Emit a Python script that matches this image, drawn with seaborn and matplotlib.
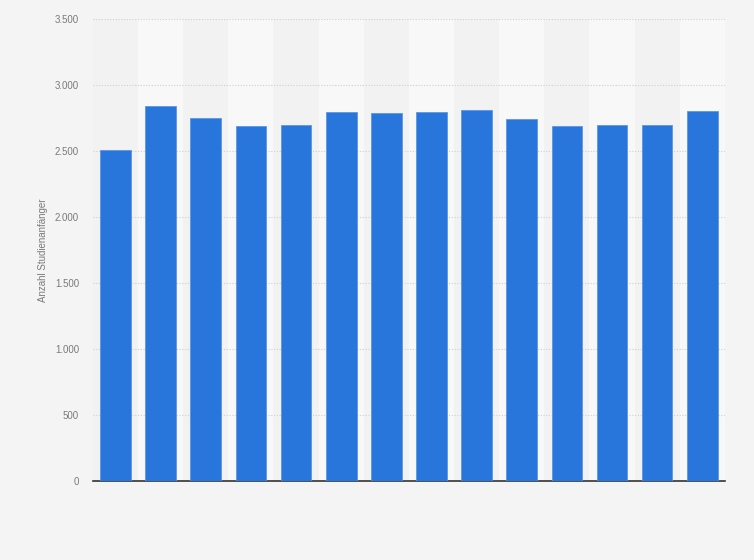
import matplotlib
matplotlib.use('Agg')
import pandas as pd
import seaborn as sns
import matplotlib.pyplot as plt
from matplotlib.ticker import FuncFormatter

# values (x labels are not shown in it)
categories = ['K01', 'K02', 'K03', 'K04', 'K05', 'K06', 'K07',
              'K08', 'K09', 'K10', 'K11', 'K12', 'K13', 'K14']
values = [2505, 2843, 2748, 2690, 2697, 2793, 2787,
          2793, 2808, 2741, 2690, 2697, 2697, 2803]
y_ticks = [0, 500, 1000, 1500, 2000, 2500, 3000, 3500]

df = pd.DataFrame({'kategorie': categories, 'anzahl': values})

sns.set_theme(style='white')
plt.rcParams['font.family'] = ['Liberation Sans', 'DejaVu Sans']

fig = plt.figure(figsize=(7.54, 5.6), dpi=100)
fig.patch.set_facecolor('#f4f4f4')
ax = fig.add_axes([0.1233, 0.141, 0.838, 0.825])
ax.set_facecolor('#f2f2f2')

# alternating column stripes
for i in range(len(categories)):
    if i % 2 == 1:
        ax.axvspan(i - 0.5, i + 0.5, color='#f8f8f8', zorder=0, lw=0)

sns.barplot(data=df, x='kategorie', y='anzahl', color='#2876dc',
            width=0.68, saturation=1, edgecolor='#5b96e6', linewidth=0.6,
            ax=ax, zorder=3)

ax.set_xlim(-0.5, len(categories) - 0.5)
ax.set_ylim(0, 3500)
ax.set_yticks(y_ticks)
ax.yaxis.set_major_formatter(FuncFormatter(lambda v, p: f'{int(v):,}'.replace(',', '.')))
ax.tick_params(axis='y', labelsize=7, labelcolor='#7a7a7a', length=0, pad=10)
ax.set_xticks([])
ax.grid(axis='y', color='#cfcfcf', linestyle=(0, (1, 1.5)), linewidth=0.8, zorder=1)
ax.set_axisbelow(True)

for side in ['top', 'right', 'left']:
    ax.spines[side].set_visible(False)
ax.spines['bottom'].set_color('#333333')
ax.spines['bottom'].set_linewidth(1.2)

ax.set_xlabel('')
ax.set_ylabel('Anzahl Studienanfänger', fontsize=7, color='#7a7a7a', labelpad=5)

plt.savefig('out.png', dpi=100, facecolor=fig.get_facecolor())
plt.close()
